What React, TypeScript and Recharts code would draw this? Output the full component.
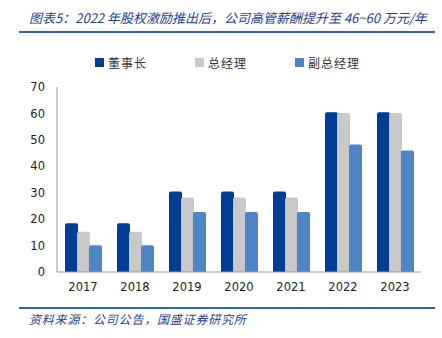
import { Bar, BarChart, XAxis, YAxis } from "recharts";

const YEARS = ["2017", "2018", "2019", "2020", "2021", "2022", "2023"];
const CHAIRMAN = [18.4, 18.4, 30.5, 30.5, 30.5, 60.4, 60.4];
const GM = [15.2, 15.2, 28.2, 28.2, 28.2, 60.2, 60.2];
const DEPUTY_GM = [10.1, 10.1, 22.7, 22.7, 22.7, 48.2, 46.0];
const Y_TICKS = [0, 10, 20, 30, 40, 50, 60, 70];

const SERIES = [
  { key: "chairman", name: "董事长", color: "#003d95", values: CHAIRMAN },
  { key: "gm", name: "总经理", color: "#c9c9c9", values: GM },
  { key: "deputy", name: "副总经理", color: "#5085c5", values: DEPUTY_GM },
];

const data = YEARS.map((year, i) => ({
  year,
  chairman: SERIES[0].values[i],
  gm: SERIES[1].values[i],
  deputy: SERIES[2].values[i],
}));

const CJK = '"Noto Sans CJK SC", sans-serif';
const NUM = '"DejaVu Sans", Tahoma, sans-serif';

// legend sits outside the chart so it doesn't eat into the plot height
function ChartLegend() {
  return (
    <div
      style={{
        position: "absolute",
        left: 95,
        top: 54,
        display: "flex",
        fontFamily: CJK,
        fontSize: 12,
        color: "#333",
      }}
    >
      {SERIES.map((s) => (
        <div key={s.key} style={{ width: 100, display: "flex", alignItems: "center" }}>
          <span
            style={{ width: 9, height: 9, background: s.color, marginRight: 4, display: "inline-block" }}
          />
          <span style={{ letterSpacing: 1 }}>{s.name}</span>
        </div>
      ))}
    </div>
  );
}

export default function App() {
  return (
    <div style={{ position: "absolute", left: 0, top: 0, width: 442, height: 338, background: "#fff" }}>
      <div
        style={{
          position: "absolute",
          left: 29,
          top: 8,
          fontFamily: CJK,
          fontSize: 13,
          fontStyle: "italic",
          color: "#1f3f8f",
          whiteSpace: "nowrap",
        }}
      >
        图表5：2022 年股权激励推出后，公司高管薪酬提升至 46~60 万元/年
      </div>
      <div style={{ position: "absolute", left: 19, top: 31, width: 416, height: 2, background: "#2e63b5" }} />

      <ChartLegend />

      <BarChart
        width={442}
        height={300}
        data={data}
        margin={{ top: 87, right: 21, bottom: 0, left: 0 }}
        barSize={13}
        barGap={-1}
        style={{ position: "absolute", left: 0, top: 0 }}
      >
        <XAxis
          dataKey="year"
          height={28}
          tickLine={false}
          tickSize={6}
          tickMargin={5}
          axisLine={{ stroke: "#9a9a9a" }}
          tick={{ fontSize: 11.5, fill: "#222", fontFamily: NUM }}
        />
        <YAxis
          width={57}
          domain={[0, 70]}
          ticks={Y_TICKS}
          interval={0}
          tickLine={false}
          tickSize={4}
          tickMargin={8}
          axisLine={{ stroke: "#9a9a9a" }}
          tick={{ fontSize: 11.5, fill: "#222", fontFamily: NUM }}
        />
        {SERIES.map((s) => (
          <Bar
            key={s.key}
            dataKey={s.key}
            name={s.name}
            fill={s.color}
            radius={[2, 2, 0, 0]}
            isAnimationActive={false}
          />
        ))}
      </BarChart>

      <div style={{ position: "absolute", left: 19, top: 307, width: 416, height: 2, background: "#2e63b5" }} />
      <div
        style={{
          position: "absolute",
          left: 29,
          top: 310,
          fontFamily: CJK,
          fontSize: 12,
          fontStyle: "italic",
          color: "#1f3f8f",
          letterSpacing: 0.8,
          whiteSpace: "nowrap",
        }}
      >
        资料来源：公司公告，国盛证券研究所
      </div>
    </div>
  );
}
